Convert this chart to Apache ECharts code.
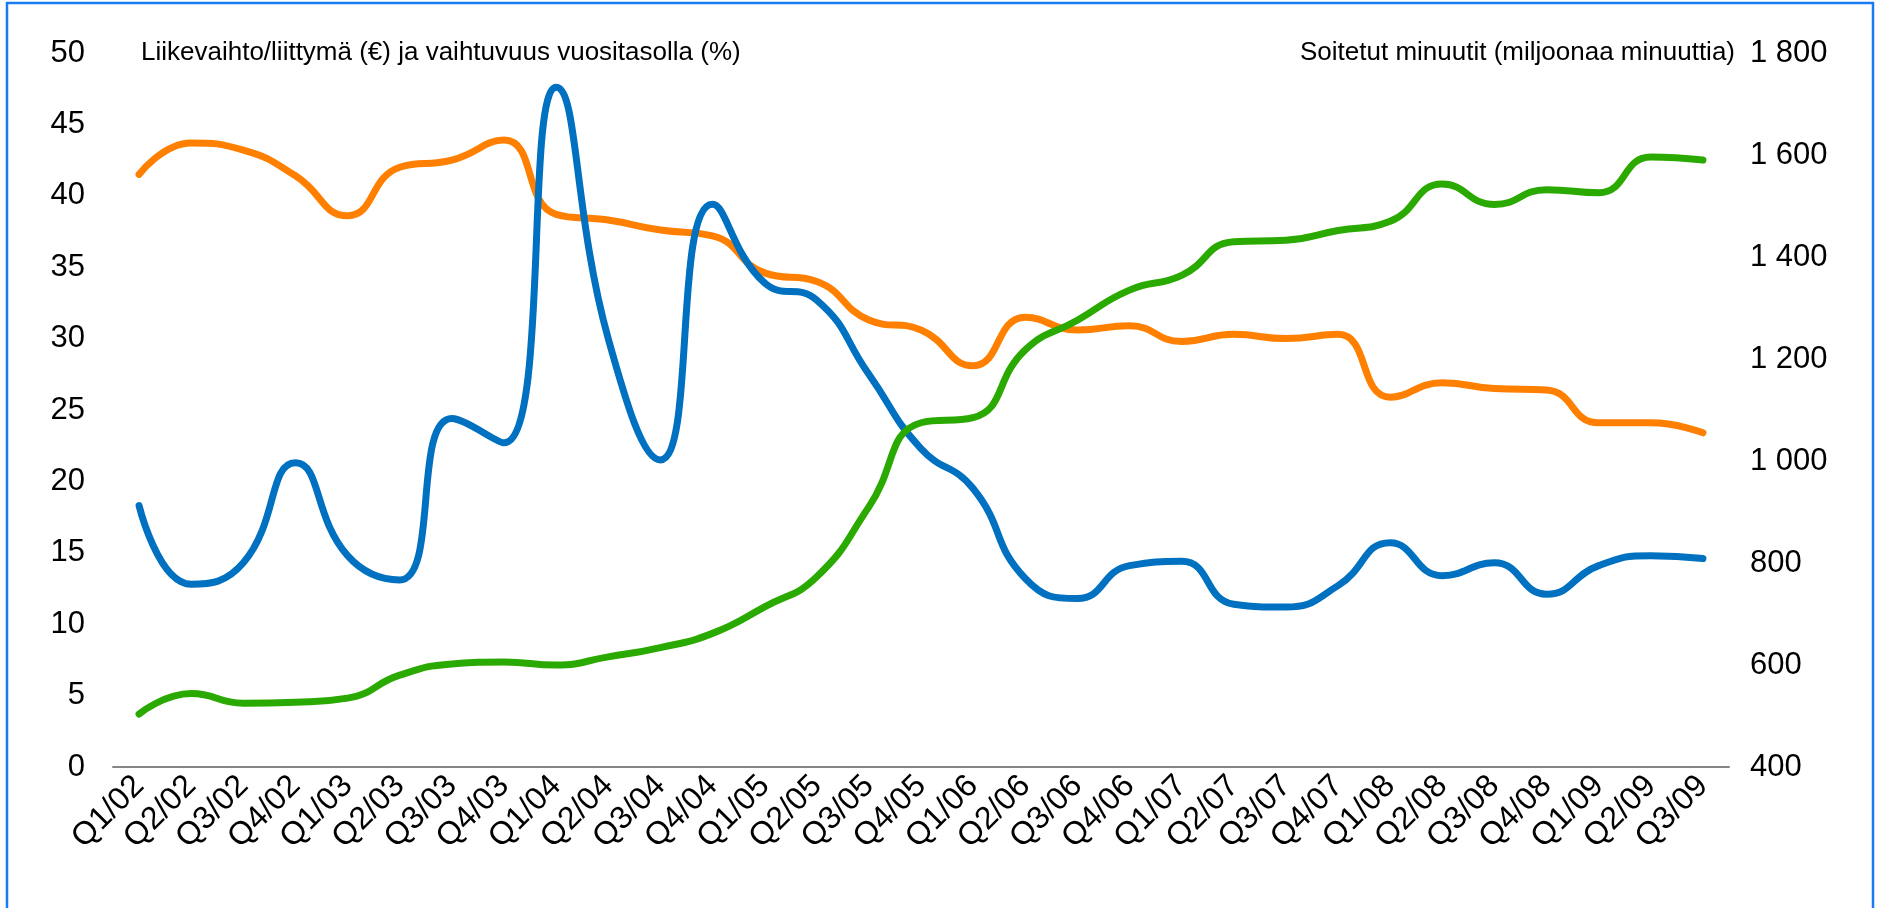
<!DOCTYPE html>
<html>
<head>
<meta charset="utf-8">
<title>Liikevaihto, vaihtuvuus ja soitetut minuutit</title>
<script src="https://cdn.jsdelivr.net/npm/echarts/dist/echarts.min.js"></script>
<style>
    html, body { margin: 0; padding: 0; background: #fff; }
    #main { width: 1877px; height: 908px; }
</style>
</head>
<body>
<div id="main"></div>
<script>
// kvartaalit
var quarters = ['Q1/02', 'Q2/02', 'Q3/02', 'Q4/02', 'Q1/03', 'Q2/03', 'Q3/03', 'Q4/03',
    'Q1/04', 'Q2/04', 'Q3/04', 'Q4/04', 'Q1/05', 'Q2/05', 'Q3/05', 'Q4/05',
    'Q1/06', 'Q2/06', 'Q3/06', 'Q4/06', 'Q1/07', 'Q2/07', 'Q3/07', 'Q4/07',
    'Q1/08', 'Q2/08', 'Q3/08', 'Q4/08', 'Q1/09', 'Q2/09', 'Q3/09'];

// liikevaihto/liittymä (€) - vasen akseli
var revenuePerSub = [41.5, 43.7, 43.2, 41.4, 38.6, 42.0, 42.5, 43.9, 38.7, 38.3, 37.6, 37.2,
    34.6, 34.0, 31.3, 30.6, 28.1, 31.5, 30.6, 30.9, 29.8, 30.3, 30.0, 30.3,
    25.9, 26.9, 26.5, 26.4, 24.1, 24.1, 23.4];

// vaihtuvuus vuositasolla (%) - vasen akseli
var churn = [18.3, 12.8, 14.3, 21.3, 14.8, 13.1, 24.4, 22.7, 47.6, 30.0, 21.5, 39.4,
    33.9, 32.7, 27.5, 22.3, 19.5, 13.2, 11.8, 14.1, 14.4, 11.4, 11.2, 12.7,
    15.7, 13.4, 14.3, 12.1, 14.1, 14.8, 14.6];

// soitetut minuutit (miljoonaa) - oikea akseli
var minutes = [504, 544, 525, 527, 535, 580, 602, 606, 600, 616, 634, 662,
    714, 773, 910, 1075, 1085, 1218, 1276, 1335, 1364, 1430, 1433, 1452,
    1470, 1543, 1503, 1532, 1526, 1596, 1590];

var leftTicks = [0, 50, 5];      // min, max, interval
var rightTicks = [400, 1800, 200];

var fontName = '"Liberation Sans", Arial, sans-serif';

var myChart = echarts.init(document.getElementById('main'));

var option = {
    backgroundColor: '#ffffff',
    animation: false,
    textStyle: {
        fontFamily: fontName,
        color: '#000'
    },
    grid: {
        left: 113,
        right: 148,
        top: 53,
        bottom: 141
    },
    // sininen kehys
    graphic: [{
        type: 'rect',
        shape: { x: 7, y: 3, width: 1866, height: 930 },
        style: { fill: 'none', stroke: '#1a7cf5', lineWidth: 2.5 },
        silent: true
    }],
    xAxis: {
        type: 'category',
        data: quarters,
        boundaryGap: true,
        axisLine: {
            lineStyle: { color: '#858585', width: 2 }
        },
        axisTick: { show: false },
        axisLabel: {
            interval: 0,
            rotate: 45,
            margin: 14,
            fontSize: 32,
            color: '#000',
            fontFamily: fontName
        },
        splitLine: { show: false }
    },
    yAxis: [
        {
            type: 'value',
            position: 'left',
            min: leftTicks[0],
            max: leftTicks[1],
            interval: leftTicks[2],
            name: 'Liikevaihto/liittymä (€) ja vaihtuvuus vuositasolla (%)',
            nameLocation: 'end',
            nameGap: 0,
            nameTextStyle: {
                align: 'left',
                verticalAlign: 'middle',
                padding: [0, 0, 0, 28],
                fontSize: 26,
                color: '#000',
                fontFamily: fontName
            },
            axisLine: { show: false },
            axisTick: { show: false },
            splitLine: { show: false },
            axisLabel: {
                margin: 28,
                fontSize: 31,
                color: '#000',
                fontFamily: fontName
            }
        },
        {
            type: 'value',
            position: 'right',
            min: rightTicks[0],
            max: rightTicks[1],
            interval: rightTicks[2],
            name: 'Soitetut minuutit (miljoonaa minuuttia)',
            nameLocation: 'end',
            nameGap: 0,
            nameTextStyle: {
                align: 'right',
                verticalAlign: 'middle',
                padding: [0, -6, 0, 0],
                fontSize: 26,
                color: '#000',
                fontFamily: fontName
            },
            axisLine: { show: false },
            axisTick: { show: false },
            splitLine: { show: false },
            axisLabel: {
                margin: 21,
                fontSize: 31,
                color: '#000',
                fontFamily: fontName,
                formatter: function (v) {
                    // tuhaterotin välilyönnillä
                    return String(v).replace(/\B(?=(\d{3})+(?!\d))/g, ' ');
                }
            }
        }
    ],
    series: [
        {
            name: 'Liikevaihto/liittymä',
            type: 'line',
            yAxisIndex: 0,
            data: revenuePerSub,
            smooth: 0.5,
            showSymbol: false,
            lineStyle: { color: '#ff8000', width: 7, cap: 'round', join: 'round' },
            itemStyle: { color: '#ff8000' }
        },
        {
            name: 'Vaihtuvuus',
            type: 'line',
            yAxisIndex: 0,
            data: churn,
            smooth: 0.5,
            showSymbol: false,
            lineStyle: { color: '#0070c0', width: 7, cap: 'round', join: 'round' },
            itemStyle: { color: '#0070c0' }
        },
        {
            name: 'Soitetut minuutit',
            type: 'line',
            yAxisIndex: 1,
            data: minutes,
            smooth: 0.5,
            showSymbol: false,
            lineStyle: { color: '#2aaa00', width: 7, cap: 'round', join: 'round' },
            itemStyle: { color: '#2aaa00' }
        }
    ]
};

myChart.setOption(option);
</script>
</body>
</html>
